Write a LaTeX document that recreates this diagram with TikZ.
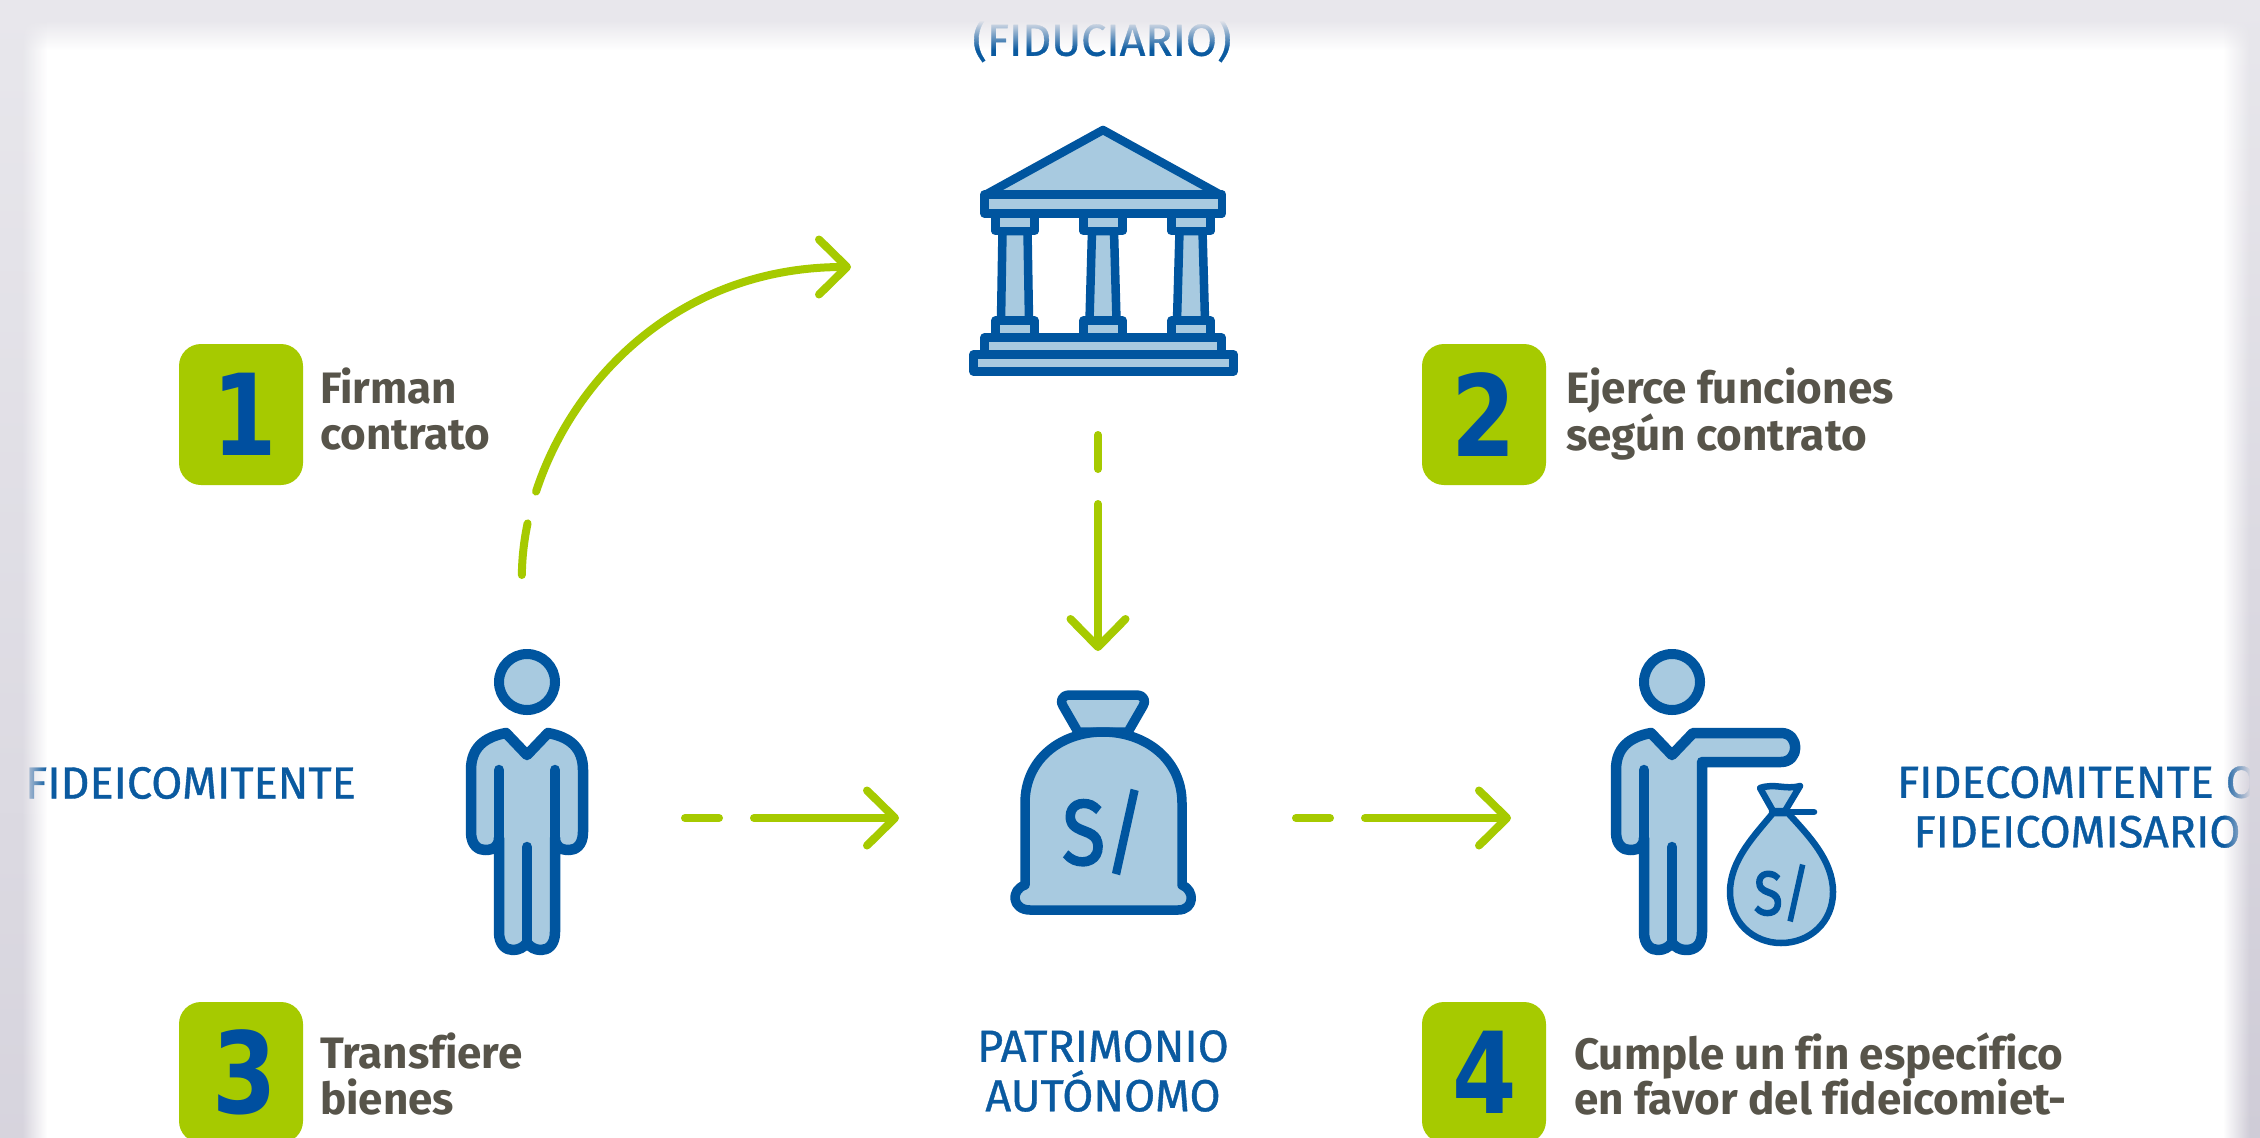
\documentclass[tikz,border=0pt]{standalone}
\usepackage{fontspec}
\usepackage{graphicx}
\setmainfont[Ligatures=NoCommon]{Fira Sans}
\newfontfamily\capsfont[FakeBold=0.8]{Fira Sans}
\newfontfamily\signfont[FakeBold=2.5]{Fira Sans}
\newfontfamily\digitfont{DejaVu Sans}[BoldFont={* Bold}]
\usetikzlibrary{arrows.meta,fadings}
\definecolor{iconblue}{HTML}{00559F}
\definecolor{iconfill}{HTML}{A8CAE0}
\definecolor{leaf}{HTML}{A6CA00}
\definecolor{digitblue}{HTML}{004F9F}
\definecolor{labelblue}{HTML}{0A5AA0}
\definecolor{stepgray}{HTML}{57544A}
\definecolor{frameA}{HTML}{E8E7EC}
\definecolor{frameB}{HTML}{CFCCD7}
\tikzfading[name=fadeE,left color=transparent!0,right color=transparent!100]
\tikzfading[name=fadeW,left color=transparent!100,right color=transparent!0]
\tikzfading[name=fadeS,top color=transparent!0,bottom color=transparent!100]
\tikzset{
  flow/.style={draw=leaf,line width=8pt,line cap=round,
    -{Straight Barb[round,length=28pt,width=55pt]}},
  dashA/.style={dash pattern=on 34pt off 35pt on 2000pt},
  dashB/.style={dash pattern=on 52pt off 33pt on 2000pt},
  numbox/.style={fill=leaf,rounded corners=22pt,minimum width=124pt,minimum height=141pt,
    inner sep=0pt,text=digitblue,font=\digitfont\bfseries\fontsize{113}{113}\selectfont},
  steptext/.style={anchor=west,align=left,inner sep=0pt,text=stepgray,
    font=\bfseries\fontsize{44}{45.5}\selectfont},
  caps/.style={align=center,inner sep=0pt,text=labelblue,
    font=\capsfont\fontsize{45}{49.5}\selectfont},
  icon/.style={inner sep=0pt,outer sep=0pt,draw=none},
  thick line/.style={draw=iconblue,fill=iconfill,line width=8.5pt,line join=round},
  body line/.style={draw=iconblue,fill=iconfill,line width=10.5pt,line join=round,line cap=round},
  inner line/.style={draw=iconblue,line width=10.5pt,line cap=round},
}
\begin{document}
\begin{tikzpicture}[x=1pt,y=-1pt]
\useasboundingbox (0,0) rectangle (2260,1138);
\clip (0,0) rectangle (2260,1138);
\fill[white] (0,0) rectangle (2260,1138);

% anchors of the icons
\node[icon,minimum width=142pt,minimum height=280pt] (person) at (521,818) {};
\node[icon,minimum width=250pt,minimum height=300pt] (bank) at (1098,267) {};
\node[icon,minimum width=190pt,minimum height=260pt] (bag) at (1098,818) {};
\node[icon,minimum width=230pt,minimum height=280pt] (giver) at (1725,818) {};

% bank
\draw[thick line] (1103,130) -- (986,194.5) -- (1220,194.5) -- cycle;
\draw[thick line] (984.5,194.5) rectangle (1222,213.5);
\foreach \cx/\tw/\bw in {1015/12.5/14,1103/11/13.5,1191/11.5/14}{
  \draw[thick line] (\cx-\tw,231) -- (\cx+\tw,231) -- (\cx+\bw,320.5) -- (\cx-\bw,320.5) -- cycle;
  \draw[thick line] (\cx-19.5,213.5) rectangle (\cx+19.5,231);
  \draw[thick line] (\cx-19.5,320.5) rectangle (\cx+19.5,337.5);
}
\draw[thick line] (984.5,337.5) rectangle (1221.5,354.5);
\draw[thick line] (973.5,354.5) rectangle (1233.5,371.5);

% person on the left
\draw[iconblue,fill=iconfill,line width=10pt] (527,682) circle (28pt);
\draw[body line] (506,733) -- (527,755) -- (548,733) .. controls (570,737) and (583,748) .. (583,770)
  -- (583,832) .. controls (583,846) and (575,850) .. (569,850) .. controls (560,850) and (555,846) .. (555,838)
  -- (555,932) .. controls (555,945) and (548,950) .. (541,950) .. controls (535,950) and (530,947) .. (527,943)
  .. controls (524,947) and (519,950) .. (513,950) .. controls (506,950) and (499,945) .. (499,932)
  -- (499,838) .. controls (499,846) and (494,850) .. (485,850) .. controls (479,850) and (471,846) .. (471,832)
  -- (471,770) .. controls (471,748) and (484,737) .. (506,733) -- cycle;
\draw[inner line] (555,770) -- (555,838);
\draw[inner line] (499,770) -- (499,838);
\draw[inner line] (527,847) -- (527,943);

% big bag
\draw[thick line,line width=9.5pt] (1070,695) -- (1136,695) .. controls (1145,695) and (1146,702) .. (1143,706)
  -- (1128,732) -- (1078,732) -- (1063,706) .. controls (1060,702) and (1061,695) .. (1070,695) -- cycle;
\draw[thick line,line width=9.5pt] (1025,803) .. controls (1025,760) and (1060,732) .. (1103,732)
  .. controls (1146,732) and (1182,760) .. (1182,803) -- (1182,885)
  .. controls (1195,890) and (1195,910) .. (1178,910) -- (1030,910)
  .. controls (1012,910) and (1010,890) .. (1025,885) -- cycle;
\node[inner sep=0pt,text=iconblue,font=\signfont\fontsize{92}{92}\selectfont] (bagsign) at (1104,832) {\scalebox{0.85}[1]{S/}};

% person with the bag
\draw[iconblue,fill=iconfill,line width=10pt] (1672,682) circle (28pt);
\draw[body line] (1651,733) -- (1672,755) -- (1693,733) -- (1781,733) .. controls (1800,733) and (1800,762) .. (1781,762)
  -- (1702,762) -- (1702,932) .. controls (1702,945) and (1695,950) .. (1686,950) .. controls (1680,950) and (1675,947) .. (1672,943)
  .. controls (1669,947) and (1664,950) .. (1658,950) .. controls (1651,950) and (1644,945) .. (1644,932)
  -- (1644,838) .. controls (1644,846) and (1639,850) .. (1630,850) .. controls (1624,850) and (1616,846) .. (1616,832)
  -- (1616,770) .. controls (1616,748) and (1629,737) .. (1651,733) -- cycle;
\draw[inner line] (1644,770) -- (1644,838);
\draw[inner line] (1672,847) -- (1672,943);

% small bag
\draw[thick line,line width=6.5pt] (1760,788) .. controls (1775,783) and (1785,790) .. (1800,786) -- (1785,811) -- (1773,811) -- cycle;
\draw[thick line,line width=6.5pt] (1773,813) .. controls (1755,835) and (1730,860) .. (1730,892)
  .. controls (1730,922) and (1753,943) .. (1781,943) .. controls (1810,943) and (1833,922) .. (1833,892)
  .. controls (1833,860) and (1808,835) .. (1788,813) -- cycle;
\draw[draw=iconblue,line width=6.5pt,line cap=round] (1772,812) -- (1814,812);
\node[inner sep=0pt,text=iconblue,font=\signfont\fontsize{62}{62}\selectfont] (smallsign) at (1782,893) {\scalebox{0.85}[1]{S/}};

% connectors
\draw[flow,dashB,shorten <=103pt,shorten >=122pt] (person.north) .. controls (523,440) and (640,267) .. (bank.west);
\draw[flow,dashA,shorten <=18pt,shorten >=37pt] (bank.south) -- (bag.north);
\draw[flow,dashA,shorten <=93pt,shorten >=104pt] (person.east) -- (bag.west);
\draw[flow,dashA,shorten <=103pt,shorten >=99pt] (bag.east) -- (giver.west);

% numbered squares
\node[numbox] (n1) at (241,414.5) {\hspace{8pt}\scalebox{0.82}[1]{1}};
\node[numbox] (n2) at (1484,414.5) {\scalebox{0.82}[1]{2}};
\node[numbox] (n3) at (241,1072.5) {\hspace{8pt}\scalebox{0.82}[1]{3}};
\node[numbox] (n4) at (1484,1072.5) {\hspace{2pt}\scalebox{0.82}[1]{4}};

\node[steptext] (t1) at (320,409) {Firman\\contrato};
\node[steptext] (t2) at (1566,414) {Ejerce funciones\\según contrato};
\node[steptext] (t3) at (320,1074) {Transfiere\\bienes};
\node[steptext] (t4) at (1574,1074) {Cumple un fin específico\\en favor del fideicomiet-};

% labels
\node[caps] (fiduciario) at (1102,40) {(FIDUCIARIO)};
\node[caps,anchor=west] (fideicomitente) at (25,783) {FIDEICOMITENTE};
\node[caps] (beneficiario) at (2077,807) {FIDECOMITENTE O\\FIDEICOMISARIO};
\node[caps] (patrimonio) at (1103,1071) {PATRIMONIO\\AUTÓNOMO};

% soft edge of the sheet
\fill[frameA,path fading=fadeS] (0,20) rectangle (2260,50);
\fill[frameA] (0,0) rectangle (2260,20);
\shade[top color=frameA,bottom color=frameB!70!frameA,path fading=fadeE] (22,0) rectangle (47,1138);
\shade[top color=frameA,bottom color=frameB!70!frameA] (0,0) rectangle (22,1138);
\shade[top color=frameA,bottom color=frameB,path fading=fadeW] (2223,0) rectangle (2250,1138);
\shade[top color=frameA,bottom color=frameB] (2250,0) rectangle (2260,1138);
\end{tikzpicture}
\end{document}
